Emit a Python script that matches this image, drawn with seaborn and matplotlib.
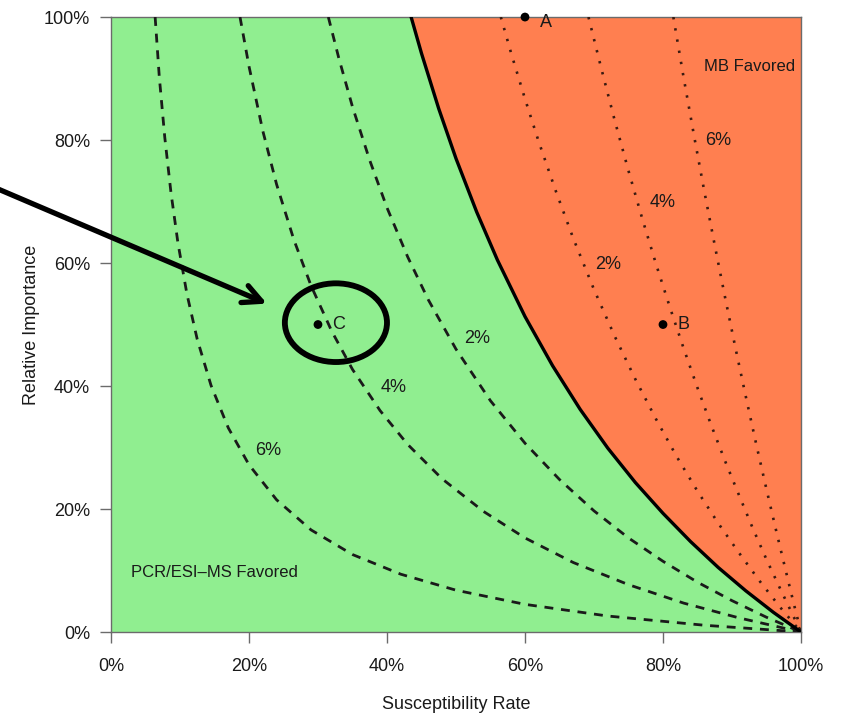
"""
Susceptibility rate vs relative importance decision chart
(PCR/ESI-MS favoured vs MB favoured regions, with iso-lines).
Writes out.png
"""

import numpy as np
import pandas as pd
import matplotlib
matplotlib.use("Agg")
import matplotlib.pyplot as plt
from matplotlib.patches import Ellipse
import seaborn as sns

# ─── Data (in %) ─────────────────────────────────────────────────────────────
# solid boundary between the two regions
BOUNDARY_X = [43.5, 45, 47.5, 50, 53, 56, 60, 64, 68, 72, 76, 80, 84, 88, 92, 96, 100]
BOUNDARY_Y = [100, 94.1, 85.1, 77, 68.3, 60.5, 51.3, 43.3, 36.2, 29.9, 24.3, 19.3, 14.7, 10.5, 6.7, 3.2, 0]

# dashed iso-lines in the green (PCR/ESI-MS) region
DASH_2_X = [31.5, 33, 35, 37.5, 40, 43, 46, 50, 55, 60, 65, 70, 75, 80, 85, 90, 95, 100]
DASH_2_Y = [100, 93.4, 85.4, 76.7, 69, 61, 54, 46, 37.6, 30.7, 24.8, 19.7, 15.3, 11.5, 8.1, 5.1, 2.4, 0]

DASH_4_X = [18.7, 20, 22, 24, 26.5, 29, 32, 35, 39, 43, 48, 54, 60, 67, 75, 83, 91, 100]
DASH_4_Y = [100, 92, 81.5, 72.8, 63.8, 56.3, 48.9, 42.7, 36, 30.5, 24.9, 19.6, 15.3, 11.3, 7.7, 4.7, 2.3, 0]

DASH_6_X = [6.4, 7, 7.8, 8.7, 9.7, 11, 12.5, 14.5, 17, 20, 24, 29, 35, 42, 50, 60, 72, 86, 100]
DASH_6_Y = [100, 90.3, 80.4, 71.4, 63.3, 55, 47.6, 40.1, 33.2, 27.2, 21.5, 16.6, 12.6, 9.4, 6.8, 4.5, 2.6, 1.1, 0]

# dotted iso-lines in the red (MB) region
DOT_2_X = [56.5, 58, 60, 62, 64.5, 67, 70, 73, 76, 79, 82, 85, 88, 91, 94, 97, 100]
DOT_2_Y = [100, 94.1, 86.7, 79.7, 71.6, 64, 55.7, 48.1, 41.1, 34.6, 28.5, 22.9, 17.7, 12.9, 8.3, 4.0, 0]

DOT_4_X = [69.2, 71, 73, 75, 77, 79, 81, 83, 85, 87, 89, 91, 93, 95, 97, 100]
DOT_4_Y = [100, 91.9, 83.2, 75, 67.2, 59.8, 52.8, 46.1, 39.7, 33.6, 27.8, 22.3, 16.9, 11.8, 7.0, 0]

DOT_6_X = [81.5, 83, 84.5, 86, 87.5, 89, 90.5, 92, 93.5, 95, 96.5, 98, 99, 100]
DOT_6_Y = [100, 90.1, 80.7, 71.6, 62.9, 54.4, 46.2, 38.3, 30.6, 23.2, 16, 9, 4.4, 0]

# iso-line labels
DASH_LABELS   = ["2%", "4%", "6%"]
DASH_LABEL_X  = [53.0, 41.0, 22.8]
DASH_LABEL_Y  = [47.7, 39.8, 29.5]
DOT_LABELS    = ["2%", "4%", "6%"]
DOT_LABEL_X   = [72.0, 79.9, 88.0]
DOT_LABEL_Y   = [59.7, 69.8, 79.9]

# scenario points
POINT_NAMES = ["A", "B", "C"]
POINT_X     = [60, 80, 30]
POINT_Y     = [100, 50, 50]

TICKS       = [0, 20, 40, 60, 80, 100]
TICK_LABELS = [f"{t}%" for t in TICKS]

# ─── Styling ─────────────────────────────────────────────────────────────────
sns.set_theme(style="white")
plt.rcParams['font.family'] = ['Liberation Sans', 'DejaVu Sans']

GREEN  = '#90EE90'
CORAL  = '#FF7F50'
INK    = '#1a1a1a'
FRAME  = '#6b6b6b'


def curve_frame(xs, ys):
    return pd.DataFrame({"x": xs, "y": ys})


def main():
    fig = plt.figure(figsize=(8.42, 7.16), dpi=100)
    ax = fig.add_axes([0.1318, 0.1173, 0.8195, 0.8589])

    # regions
    ax.axvspan(0, 100, color=GREEN, zorder=0, lw=0)
    ax.fill_between(BOUNDARY_X, BOUNDARY_Y, 100, color=CORAL, zorder=1, lw=0)

    # iso-lines
    for xs, ys in [(DASH_2_X, DASH_2_Y), (DASH_4_X, DASH_4_Y), (DASH_6_X, DASH_6_Y)]:
        sns.lineplot(data=curve_frame(xs, ys), x="x", y="y", sort=False, estimator=None,
                     color=INK, lw=2.0, linestyle=(0, (3.2, 2.8)), ax=ax, zorder=3)
    for xs, ys in [(DOT_2_X, DOT_2_Y), (DOT_4_X, DOT_4_Y), (DOT_6_X, DOT_6_Y)]:
        sns.lineplot(data=curve_frame(xs, ys), x="x", y="y", sort=False, estimator=None,
                     color='#3a1a10', lw=1.9, linestyle=(0, (0.9, 3.4)), ax=ax, zorder=3)

    # boundary
    sns.lineplot(data=curve_frame(BOUNDARY_X, BOUNDARY_Y), x="x", y="y", sort=False,
                 estimator=None, color='black', lw=2.4, ax=ax, zorder=4)

    for lbl, x, y in zip(DASH_LABELS, DASH_LABEL_X, DASH_LABEL_Y):
        ax.text(x, y, lbl, fontsize=13, color=INK, ha='center', va='center', zorder=5)
    for lbl, x, y in zip(DOT_LABELS, DOT_LABEL_X, DOT_LABEL_Y):
        ax.text(x, y, lbl, fontsize=13, color=INK, ha='center', va='center', zorder=5)

    ax.text(92.5, 91.9, "MB Favored", fontsize=12, color=INK, ha='center', va='center')
    ax.text(2.9, 9.6, "PCR/ESI\u2013MS Favored", fontsize=12, color=INK, ha='left', va='center')

    # points
    pts = pd.DataFrame({"x": POINT_X, "y": POINT_Y, "name": POINT_NAMES})
    sns.scatterplot(data=pts, x="x", y="y", color='black', s=40, edgecolor='none',
                    ax=ax, zorder=6, clip_on=False)
    for name, x, y in zip(POINT_NAMES, POINT_X, POINT_Y):
        dy = -4 if y >= 100 else 0
        ax.annotate(name, (x, y), xytext=(15, dy), textcoords='offset points',
                    fontsize=13, color=INK, ha='center', va='center',
                    annotation_clip=False, zorder=6)

    # highlight around C
    ax.add_patch(Ellipse((32.6, 50.3), 14.8, 12.8, fill=False, ec='black', lw=4.2,
                         zorder=7, clip_on=False))
    ax.annotate("", xy=(22.6, 53.4), xytext=(-16.5, 72.1),
                arrowprops=dict(arrowstyle='->,head_length=1.1,head_width=0.55',
                                lw=3.8, color='black', shrinkA=0, shrinkB=0),
                annotation_clip=False, zorder=8)

    # axes
    ax.set_xlim(0, 100)
    ax.set_ylim(0, 100)
    ax.set_xticks(TICKS)
    ax.set_xticklabels(TICK_LABELS)
    ax.set_yticks(TICKS)
    ax.set_yticklabels(TICK_LABELS)
    ax.tick_params(axis='both', direction='out', length=8, width=1.0, color=FRAME,
                   labelsize=13, labelcolor=INK, pad=7, bottom=True, left=True)
    ax.tick_params(axis='x', pad=11)
    for sp in ax.spines.values():
        sp.set_color(FRAME)
        sp.set_linewidth(1.0)
        sp.set_visible(True)
    ax.set_xlabel("Susceptibility Rate", fontsize=13, color=INK, labelpad=15)
    ax.set_ylabel("Relative Importance", fontsize=13, color=INK, labelpad=3)
    ax.grid(False)

    fig.savefig("out.png", dpi=100)
    plt.close(fig)


if __name__ == "__main__":
    main()
